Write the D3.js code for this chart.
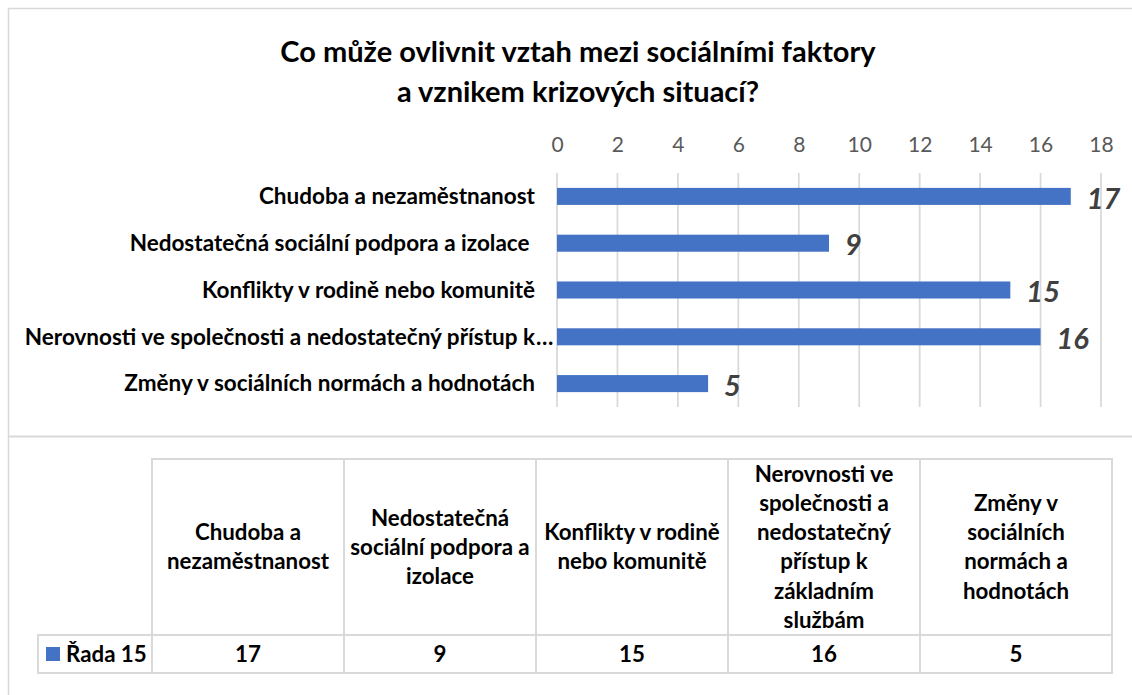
<!DOCTYPE html>
<html>
<head>
<meta charset="utf-8">
<script src="https://cdn.jsdelivr.net/npm/d3@7/dist/d3.min.js"></script>
<style>
    body { margin: 0; background: #fff; }
    svg { display: block; font-family: Lato, "Open Sans", sans-serif; }
    text { white-space: pre; }
</style>
</head>
<body>
<div id="chart"></div>
<script>
var title = ["Co může ovlivnit vztah mezi sociálními faktory", "a vznikem krizových situací?"];

var categories = [
    "Chudoba a nezaměstnanost",
    "Nedostatečná sociální podpora a izolace",
    "Konflikty v rodině nebo komunitě",
    "Nerovnosti ve společnosti a nedostatečný přístup k základním službám",
    "Změny v sociálních normách a hodnotách"
];

// labels as shown on the category axis (long one is cut off)
var axisLabels = [
    "Chudoba a nezaměstnanost",
    "Nedostatečná sociální podpora a izolace ",
    "Konflikty v rodině nebo komunitě",
    "Nerovnosti ve společnosti a nedostatečný přístup k…",
    "Změny v sociálních normách a hodnotách"
];

var values = [17, 9, 15, 16, 5];
var seriesName = "Řada 15";
var xTicks = [0, 2, 4, 6, 8, 10, 12, 14, 16, 18];

// wrapped header text of the data table
var headerLines = [
    ["Chudoba a", "nezaměstnanost"],
    ["Nedostatečná", "sociální podpora a", "izolace"],
    ["Konflikty v rodině", "nebo komunitě"],
    ["Nerovnosti ve", "společnosti a", "nedostatečný", "přístup k", "základním", "službám"],
    ["Změny v", "sociálních", "normách a", "hodnotách"]
];

var width = 1132, height = 695;
var blue = "#4472c4", grid = "#d9d9d9";

var data = categories.map(function(c, i) {
    return { category: c, label: axisLabels[i], value: values[i] };
});

var svg = d3.select("#chart").append("svg")
    .attr("width", width)
    .attr("height", height);

// chart frame + separator above the data table
svg.append("rect")
    .attr("x", 8.5).attr("y", 8.5)
    .attr("width", width + 20).attr("height", height + 20)
    .style("fill", "none").style("stroke", grid).style("stroke-width", 1.5);
svg.append("line")
    .attr("x1", 8).attr("x2", width).attr("y1", 436.5).attr("y2", 436.5)
    .style("stroke", grid).style("stroke-width", 2);

// title
svg.append("text")
    .attr("x", 578).attr("y", 62)
    .style("text-anchor", "middle")
    .style("font-size", "29px").style("font-weight", "bold").style("fill", "#000")
    .selectAll("tspan").data(title).enter().append("tspan")
    .attr("x", 578)
    .attr("dy", function(d, i) { return i === 0 ? 0 : 40; })
    .text(function(d) { return d; });

var xScale = d3.scaleLinear().domain([0, 18]).range([557, 1101]);
var yScale = d3.scaleBand()
    .domain(categories)
    .range([173, 407])
    .paddingInner(0.636)
    .paddingOuter(0.318);

// top axis, ticks only, gridlines drawn separately
var xAxis = d3.axisTop(xScale).tickValues(xTicks).tickSize(0).tickPadding(0);
var gx = svg.append("g")
    .attr("class", "x axis")
    .attr("transform", "translate(0,152)")
    .call(xAxis);
gx.select(".domain").remove();
gx.selectAll("text")
    .style("font-family", "Lato, sans-serif")
    .style("font-size", "21px")
    .style("fill", "#595959");

svg.append("g").attr("class", "grid")
    .selectAll("line").data(xTicks).enter().append("line")
    .attr("x1", function(d) { return xScale(d); })
    .attr("x2", function(d) { return xScale(d); })
    .attr("y1", yScale.range()[0])
    .attr("y2", yScale.range()[1])
    .style("stroke", grid)
    .style("stroke-width", 1.75);

svg.append("g").attr("class", "bars")
    .selectAll("rect").data(data).enter().append("rect")
    .attr("x", xScale(0))
    .attr("y", function(d) { return yScale(d.category); })
    .attr("width", function(d) { return xScale(d.value) - xScale(0); })
    .attr("height", yScale.bandwidth())
    .style("fill", blue);

// category labels
var yLab = svg.append("g").attr("class", "y labels")
    .selectAll("g").data(data).enter().append("g")
    .attr("transform", function(d) {
        return "translate(535," + (yScale(d.category) + yScale.bandwidth() / 2) + ")";
    });
yLab.append("text")
    .attr("dy", "0.35em")
    .style("text-anchor", "end")
    .style("font-size", "22.5px").style("font-weight", "bold").style("fill", "#000")
    .text(function(d) { return d.label.replace("…", ""); });
yLab.filter(function(d) { return d.label.slice(-1) === "…"; })
    .append("text")
    .attr("x", 1)
    .attr("dy", "0.35em")
    .style("font-size", "22.5px").style("font-weight", "bold").style("fill", "#000")
    .text("…");

// data labels
svg.append("g").attr("class", "values")
    .selectAll("text").data(data).enter().append("text")
    .attr("x", function(d) { return xScale(d.value) + 16; })
    .attr("y", function(d) { return yScale(d.category) + yScale.bandwidth() / 2; })
    .attr("dy", "0.42em")
    .style("font-size", "29px").style("font-weight", "bold").style("font-style", "italic")
    .style("fill", "#404040")
    .text(function(d) { return d.value; });

// data table
var col = d3.scaleBand().domain(categories).range([152, 1112]);
var headTop = 459, rowTop = 635, rowBottom = 673, legendLeft = 38;
var lineH = 29.3;

var table = svg.append("g").attr("class", "table");

table.selectAll("rect.head").data(data).enter().append("rect")
    .attr("class", "head")
    .attr("x", function(d) { return col(d.category); })
    .attr("y", headTop)
    .attr("width", col.bandwidth())
    .attr("height", rowTop - headTop)
    .style("fill", "none").style("stroke", grid).style("stroke-width", 2);

table.selectAll("rect.cell").data(data).enter().append("rect")
    .attr("class", "cell")
    .attr("x", function(d) { return col(d.category); })
    .attr("y", rowTop)
    .attr("width", col.bandwidth())
    .attr("height", rowBottom - rowTop)
    .style("fill", "none").style("stroke", grid).style("stroke-width", 2);

table.append("rect")
    .attr("x", legendLeft).attr("y", rowTop)
    .attr("width", col.range()[0] - legendLeft)
    .attr("height", rowBottom - rowTop)
    .style("fill", "none").style("stroke", grid).style("stroke-width", 2);

var headMid = (headTop + rowTop) / 2;
table.selectAll("text.head").data(data).enter().append("text")
    .attr("class", "head")
    .style("text-anchor", "middle")
    .style("font-size", "22.3px").style("font-weight", "bold").style("fill", "#000")
    .each(function(d, i) {
        var lines = headerLines[i];
        var x = col(d.category) + col.bandwidth() / 2;
        var y0 = headMid - (lines.length - 1) * lineH / 2;
        d3.select(this).selectAll("tspan").data(lines).enter().append("tspan")
            .attr("x", x)
            .attr("y", function(l, j) { return y0 + j * lineH; })
            .attr("dy", "0.35em")
            .text(function(l) { return l; });
    });

table.selectAll("text.cell").data(data).enter().append("text")
    .attr("class", "cell")
    .attr("x", function(d) { return col(d.category) + col.bandwidth() / 2; })
    .attr("y", (rowTop + rowBottom) / 2)
    .attr("dy", "0.35em")
    .style("text-anchor", "middle")
    .style("font-size", "22.3px").style("font-weight", "bold").style("fill", "#000")
    .text(function(d) { return d.value; });

// legend key in the row header
table.append("rect")
    .attr("x", 46).attr("y", 647)
    .attr("width", 14).attr("height", 14)
    .style("fill", blue);
table.append("text")
    .attr("x", 66).attr("y", (rowTop + rowBottom) / 2)
    .attr("dy", "0.35em")
    .style("font-size", "22.3px").style("font-weight", "bold").style("fill", "#000")
    .text(seriesName);
</script>
</body>
</html>
